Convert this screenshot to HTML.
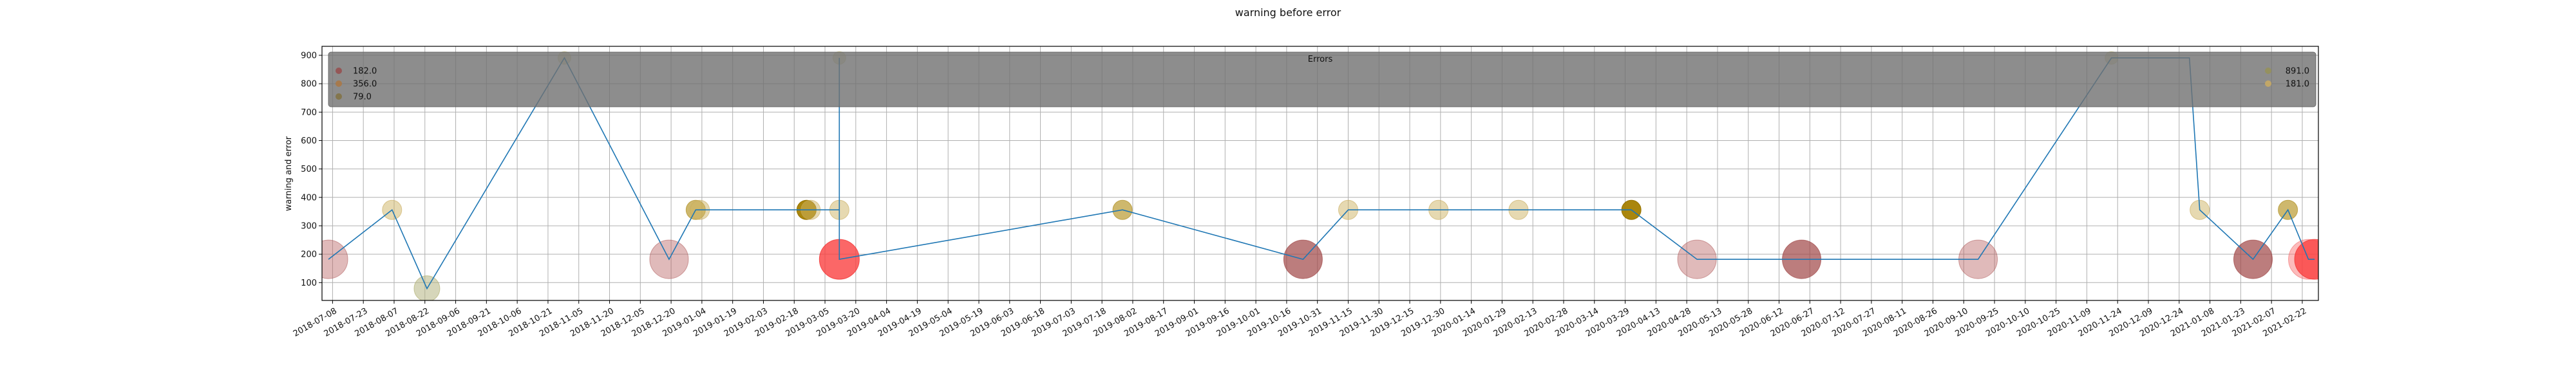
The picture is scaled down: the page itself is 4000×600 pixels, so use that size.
<!DOCTYPE html>
<html><head><meta charset="utf-8"><style>
html,body{margin:0;padding:0;background:#fff;}
svg{display:block;font-family:"DejaVu Sans","Liberation Sans",sans-serif;}
</style></head><body>
<svg id="chart" width="4000" height="600" viewBox="0 0 4000 600" xmlns="http://www.w3.org/2000/svg">
<defs><clipPath id="plotclip"><rect x="500" y="72" width="3100" height="395"/></clipPath></defs>
<rect width="4000" height="600" fill="#fff"/>
<text x="2000" y="25" font-size="16" text-anchor="middle" fill="#111">warning before error</text>
<g id="grid"></g>
<g id="marks" clip-path="url(#plotclip)"></g>
<g id="axes"></g>
<g id="legend"></g>
<text transform="translate(452,270) rotate(-90)" font-size="13" text-anchor="middle" fill="#111">warning and error</text>
</svg>
<script>
const lineDates = ["2018-07-06","2018-08-06","2018-08-23","2018-10-29","2018-12-19","2019-01-01","2019-03-12","2019-03-12","2019-03-12","2019-07-28","2019-10-24","2019-11-15","2020-04-01","2020-05-03","2020-09-17","2020-11-21","2020-12-29","2021-01-03","2021-01-29","2021-02-15","2021-02-25","2021-02-28"];
const lineValues = [182,356,79,891,182,356,356,891,182,356,182,356,356,182,182,891,891,356,182,356,182,182];
const bubbleDates = ["2018-07-06","2018-08-06","2018-08-23","2018-10-29","2018-12-19","2019-01-01","2019-01-03","2019-02-24","2019-02-26","2019-03-12","2019-03-12","2019-03-12","2019-07-28","2019-10-24","2019-11-15","2019-12-29","2020-02-06","2020-04-01","2020-05-03","2020-06-23","2020-09-17","2020-11-21","2021-01-03","2021-01-29","2021-02-15","2021-02-25","2021-02-28"];
const bubbleValues = [182,356,79,891,182,356,356,356,356,356,891,182,356,182,356,356,356,356,182,182,182,891,356,182,356,182,182];
const bubbleSizes = [30,15,20,10,30,15,15,15,15,15,10,31,15,30,15,15,15,15,30,30,30,10,15,30,15,31,31];
const bubbleKinds = ["pink","tan","olive","faint","pink","mid","tan","dark","tan","tan","faint","red","mid","brown","tan","tan","tan","dark","pink","brown","pink","faint","tan","brown","mid","lightred","red"];
const yTicks = [100,200,300,400,500,600,700,800,900];
const xTickStart = "2018-07-08";
const xTickStepDays = 15;
const xTickCount = 65;
const legendLeft = ["182.0","356.0","79.0"];
const legendRight = ["891.0","181.0"];

const NS="http://www.w3.org/2000/svg";
const DAY=86400000;
const t0=Date.parse(xTickStart+"T00:00:00Z");
const X0=516.4, PXD=3.186, AXL=500, AXR=3600;
function xDate(s){return X0+(Date.parse(s+"T00:00:00Z")-t0)/DAY*PXD;}
function yVal(v){return 439.3-(v-100)*0.44167;}
function mk(tag,attrs,parent){const e=document.createElementNS(NS,tag);for(const k in attrs)e.setAttribute(k,attrs[k]);parent.appendChild(e);return e;}
const styles={
 pink:["rgba(180,90,90,0.42)","rgba(160,60,60,0.45)"],
 brown:["rgba(160,70,70,0.7)","rgba(150,50,50,0.6)"],
 tan:["rgba(205,180,100,0.5)","rgba(200,170,90,0.6)"],
 mid:["rgba(190,160,60,0.75)","rgba(180,150,50,0.8)"],
 dark:["rgba(165,128,0,0.95)","rgba(150,115,0,1)"],
 olive:["rgba(180,180,130,0.55)","rgba(170,170,100,0.6)"],
 faint:["rgba(200,190,110,0.4)","rgba(200,190,110,0.4)"],
 red:["rgba(250,60,60,0.78)","rgba(240,50,50,0.8)"],
 lightred:["rgba(250,120,120,0.5)","rgba(240,90,90,0.5)"]
};
const grid=document.getElementById('grid'),axes=document.getElementById('axes'),marks=document.getElementById('marks'),legend=document.getElementById('legend');
yTicks.forEach(v=>{const y=yVal(v);
 const g=mk('line',{x1:AXL,x2:AXR,y1:y,y2:y,stroke:'#b0b0b0','stroke-width':1},grid);
 
 
 mk('line',{x1:AXL-5,x2:AXL,y1:y,y2:y,stroke:'#000'},axes);
 const t=mk('text',{x:AXL-8,y:y+4.5,'font-size':13,'text-anchor':'end',fill:'#111'},axes);t.textContent=v;
 
 
});
for(let i=0;i<xTickCount;i++){
 const d=new Date(t0+i*xTickStepDays*DAY).toISOString().slice(0,10);
 const x=xDate(d);
 const g=mk('line',{x1:x,x2:x,y1:72,y2:467,stroke:'#b0b0b0','stroke-width':1},grid);
 
 
 mk('line',{x1:x,x2:x,y1:467,y2:472,stroke:'#000'},axes);
 const t=mk('text',{transform:`translate(${x+3},${478}) rotate(-30)`,'font-size':13,'text-anchor':'end','dominant-baseline':'hanging',fill:'#111'},axes);t.textContent=d;
 
 
}
bubbleDates.forEach((d,i)=>{const s=styles[bubbleKinds[i]];
 const c=mk('circle',{cx:xDate(d),cy:yVal(bubbleValues[i]),r:bubbleSizes[i],fill:s[0],stroke:s[1],'stroke-width':1},marks);
 
 
});
const pts=lineDates.map((d,i)=>xDate(d).toFixed(1)+','+yVal(lineValues[i]).toFixed(1)).join(' ');
const pl=mk('polyline',{points:pts,fill:'none',stroke:'#1f77b4','stroke-width':1.6,'stroke-linejoin':'miter'},marks);


const fr=mk('rect',{x:AXL,y:72,width:AXR-AXL,height:395,fill:'none',stroke:'#000','stroke-width':1.2},axes);


const lb=mk('rect',{x:510,y:81,width:3086,height:85,rx:4,fill:'rgba(112,112,112,0.8)',stroke:'rgba(90,90,90,0.8)'},legend);


const lt=mk('text',{x:2050,y:96,'font-size':13,'text-anchor':'middle',fill:'#111'},legend);lt.textContent='Errors';


const lcL=['rgba(150,80,80,0.9)','rgba(170,120,70,0.9)','rgba(130,115,70,0.9)'];
legendLeft.forEach((s,i)=>{const y=110+i*20;
 const m=mk('circle',{cx:526,cy:y,r:5,fill:lcL[i]},legend);
 
 
 const t=mk('text',{x:548,y:y+4.5,'font-size':13,fill:'#111'},legend);t.textContent=s;
 
 
});
const lcR=['rgba(150,145,90,0.9)','rgba(200,170,100,0.9)'];
legendRight.forEach((s,i)=>{const y=110+i*20;
 const m=mk('circle',{cx:3522,cy:y,r:5,fill:lcR[i]},legend);
 
 
 const t=mk('text',{x:3586,y:y+4.5,'font-size':13,'text-anchor':'end',fill:'#111'},legend);t.textContent=s;
 
 
});
</script>
</body></html>
